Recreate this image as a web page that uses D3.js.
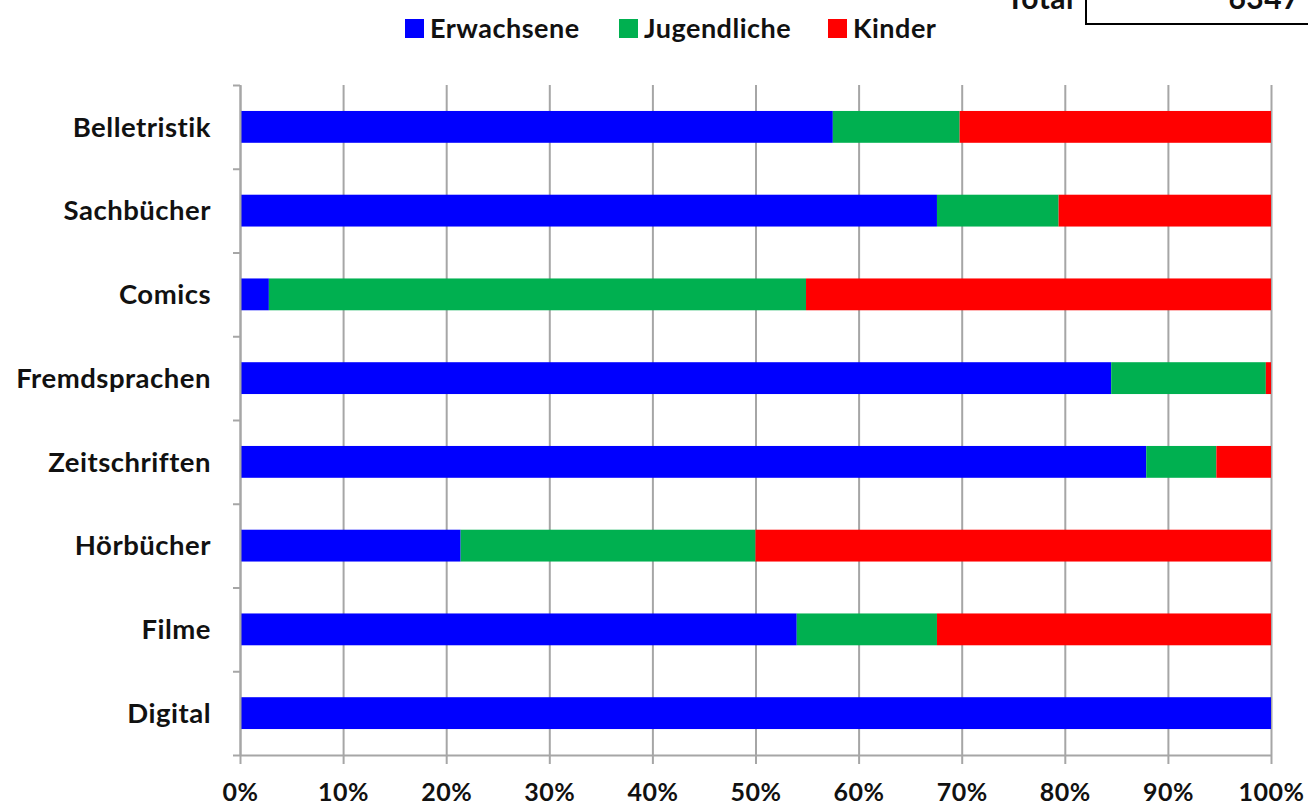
<!DOCTYPE html>
<html>
<head>
  <meta charset="utf-8">
  <script src="https://d3js.org/d3.v7.min.js"></script>
  <style>
    body { margin: 0; background: #fff; }
    text { font-family: Lato, "Open Sans", sans-serif; font-weight: 700; fill: #111; letter-spacing: 0.5px; }
    .grid line { stroke: #a6a6a6; stroke-width: 2px; }
    .grid .domain { stroke: none; }
    .axis line, .axis path { stroke: #a6a6a6; stroke-width: 2px; }
  </style>
</head>
<body>
<svg id="chart" width="1308" height="807"></svg>
<script>
  // data (shares in %)
  const categories = ["Belletristik", "Sachbücher", "Comics", "Fremdsprachen", "Zeitschriften", "Hörbücher", "Filme", "Digital"];
  const erwachsene  = [57.5, 67.6,  2.8, 84.5, 87.9, 21.4, 54.0, 100];
  const jugendliche = [12.3, 11.8, 52.1, 15.0,  6.8, 28.6, 13.6,   0];
  const kinder      = [30.2, 20.6, 45.1,  0.5,  5.3, 50.0, 32.4,   0];
  const seriesNames = ["Erwachsene", "Jugendliche", "Kinder"];
  const seriesColors = ["#0000ff", "#00b050", "#ff0000"];
  const xTicks = [0, 10, 20, 30, 40, 50, 60, 70, 80, 90, 100];
  const totalValue = "6347";

  const svg = d3.select("#chart");
  const margin = {top: 85, left: 240, right: 37, bottom: 52};
  const width = +svg.attr("width"), height = +svg.attr("height");
  const chartWidth = width - margin.left - margin.right;
  const chartHeight = height - margin.top - margin.bottom;

  const rows = categories.map((c, i) => ({cat: c, Erwachsene: erwachsene[i], Jugendliche: jugendliche[i], Kinder: kinder[i]}));
  const stacked = d3.stack().keys(seriesNames)(rows);

  const x = d3.scaleLinear().domain([0, 100]).range([0, chartWidth]);
  const y = d3.scaleBand().domain(categories).range([0, chartHeight]).paddingInner(0.62).paddingOuter(0.31);
  const color = d3.scaleOrdinal().domain(seriesNames).range(seriesColors);

  const chart = svg.append("g").attr("transform", `translate(${margin.left},${margin.top})`);

  // vertical gridlines
  chart.append("g").attr("class", "grid")
    .call(d3.axisTop(x).tickValues(xTicks).tickFormat("").tickSize(-chartHeight).tickSizeOuter(0));

  // bars
  chart.selectAll("g.series").data(stacked).join("g")
    .attr("class", "series")
    .attr("fill", d => color(d.key))
    .selectAll("rect").data(d => d).join("rect")
    .attr("x", d => x(d[0]))
    .attr("width", d => x(d[1]) - x(d[0]))
    .attr("y", d => y(d.data.cat))
    .attr("height", y.bandwidth());

  // bottom axis
  const bottom = chart.append("g").attr("class", "axis")
    .attr("transform", `translate(0,${chartHeight})`)
    .call(d3.axisBottom(x).tickValues(xTicks).tickFormat(d => d + "%").tickSize(9).tickSizeOuter(0).tickPadding(19));
  bottom.selectAll("text").style("font-size", "25px").attr("fill", "#111");

  // left axis: ticks between categories
  const yEdge = d3.scaleLinear().domain([0, categories.length]).range([0, chartHeight]);
  chart.append("g").attr("class", "axis")
    .call(d3.axisLeft(yEdge).ticks(categories.length).tickFormat("").tickSize(7).tickSizeOuter(0));

  chart.append("g").selectAll("text").data(categories).join("text")
    .attr("x", -29)
    .attr("y", d => y(d) + y.bandwidth() / 2)
    .attr("dy", "0.35em")
    .attr("text-anchor", "end")
    .style("font-size", "27.5px")
    .text(d => d);

  // legend
  const legendX = [405, 619, 828];
  const legend = svg.append("g").selectAll("g").data(seriesNames).join("g")
    .attr("transform", (d, i) => `translate(${legendX[i]},19)`);
  legend.append("rect").attr("width", 19).attr("height", 19).attr("fill", d => color(d));
  legend.append("text").attr("x", 25).attr("y", 10).attr("dy", "0.35em")
    .style("font-size", "27px").text(d => d);

  // Total box (cut off at the top, as in the original)
  svg.append("text").attr("x", 1074).attr("y", 9).attr("text-anchor", "end")
    .style("font-size", "30px").text("Total");
  svg.append("path").attr("d", "M1086,-2 V24 H1310").attr("fill", "none").attr("stroke", "#000").attr("stroke-width", 2);
  svg.append("text").attr("x", 1300).attr("y", 9).attr("text-anchor", "end")
    .style("font-size", "30px").text(totalValue);
</script>
</body>
</html>
